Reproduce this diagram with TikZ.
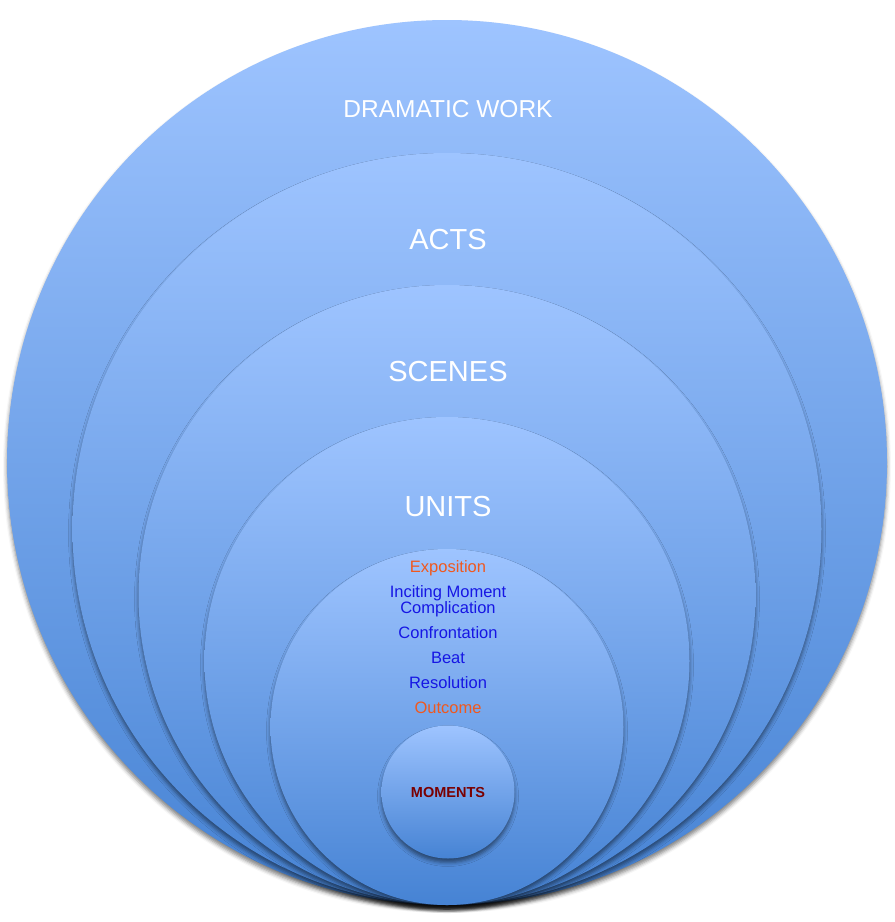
\documentclass[tikz,border=0pt]{standalone}
\usepackage{fontspec}
\setmainfont{Liberation Sans}
\usetikzlibrary{shapes.geometric, shadows.blur}

\definecolor{ringtop}{RGB}{158,196,255}
\definecolor{ringbot}{RGB}{70,131,212}
\definecolor{stagered}{RGB}{240,88,30}
\definecolor{stageblue}{RGB}{22,22,228}
\definecolor{momentred}{RGB}{122,0,0}

\tikzset{
	ring/.style={ellipse, inner sep=0pt, outer sep=0pt, draw=none,
		top color=ringtop, bottom color=ringbot,
		blur shadow={shadow xshift=0pt, shadow yshift=-4pt, shadow blur radius=4pt, shadow opacity=50}},
	level/.style={text=white, anchor=base, inner sep=0pt, font=\fontsize{29}{31}\selectfont},
	stage/.style={anchor=base, inner sep=0pt, font=\fontsize{16.5}{18}\selectfont}
}

\begin{document}
\begin{tikzpicture}[x=1pt, y=-1pt]
			\useasboundingbox (0,0) rectangle (895,922);

			\begin{scope}
				\foreach \name/\rx/\ry in {work/440/442.5, acts/374.5/376, scenes/308.5/310, units/242.5/244, stages/176.5/178}
				{
					\node [ring, minimum width=2*\rx pt, minimum height=2*\ry pt] (\name) at (447,905-\ry) {};
				}
				\node [ring, minimum width=133pt, minimum height=133pt] (moments) at (448,792) {};
			\end{scope}

			\begin{scope}
				\node [level, font=\fontsize{24.5}{26}\selectfont] (work-lbl) at (448,117) {DRAMATIC WORK};
				\node [level] (acts-lbl) at (448,249) {ACTS};
				\node [level] (scenes-lbl) at (448,381) {SCENES};
				\node [level] (units-lbl) at (448,516) {UNITS};
			\end{scope}

			\begin{scope}
				\foreach \name/\txt/\y/\col in {expo/Exposition/572/stagered, incite/Inciting Moment/597/stageblue, compl/Complication/613/stageblue, confr/Confrontation/638/stageblue, beat/Beat/663/stageblue, resol/Resolution/688/stageblue, outc/Outcome/713/stagered}
				{
					\node [stage, text=\col] (\name) at (448,\y) {\txt};
				}
				\node [anchor=base, inner sep=0pt, text=momentred, font=\bfseries\fontsize{14.5}{16}\selectfont] (moments-lbl) at (448,797) {MOMENTS};
			\end{scope}
		\end{tikzpicture}
\end{document}
